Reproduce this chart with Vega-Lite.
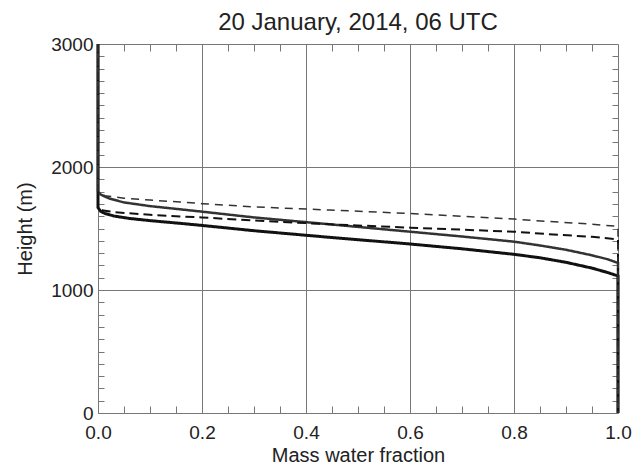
{
  "$schema": "https://vega.github.io/schema/vega-lite/v6.json",
  "autosize": "none",
  "width": 520,
  "height": 369,
  "padding": {"left": 98, "top": 44, "right": 25, "bottom": 52},
  "background": "white",
  "config": {
    "font": "Liberation Sans",
    "view": {"stroke": null},
    "axis": {"labelFlush": false, "labelOverlap": false, "labelColor": "#222", "titleColor": "#222", "titleFontWeight": "normal", "labelFont": "Liberation Sans", "titleFont": "Liberation Sans"}
  },
  "title": {"text": "20 January, 2014, 06 UTC", "fontSize": 24, "fontWeight": "normal", "font": "Liberation Sans", "color": "#222", "anchor": "middle", "frame": "group", "offset": 0},
  "data": {"values": [
    {"s": "thick_solid", "i": 0, "x": 0, "h": 3000},
    {"s": "thick_solid", "i": 1, "x": 0, "h": 1670},
    {"s": "thick_solid", "i": 2, "x": 0.005, "h": 1640},
    {"s": "thick_solid", "i": 3, "x": 0.013, "h": 1623},
    {"s": "thick_solid", "i": 4, "x": 0.03, "h": 1602},
    {"s": "thick_solid", "i": 5, "x": 0.06, "h": 1582},
    {"s": "thick_solid", "i": 6, "x": 0.1, "h": 1564},
    {"s": "thick_solid", "i": 7, "x": 0.158, "h": 1542},
    {"s": "thick_solid", "i": 8, "x": 0.2, "h": 1525},
    {"s": "thick_solid", "i": 9, "x": 0.3, "h": 1482},
    {"s": "thick_solid", "i": 10, "x": 0.446, "h": 1428},
    {"s": "thick_solid", "i": 11, "x": 0.6, "h": 1374},
    {"s": "thick_solid", "i": 12, "x": 0.7, "h": 1335},
    {"s": "thick_solid", "i": 13, "x": 0.8, "h": 1290},
    {"s": "thick_solid", "i": 14, "x": 0.85, "h": 1262},
    {"s": "thick_solid", "i": 15, "x": 0.9, "h": 1225},
    {"s": "thick_solid", "i": 16, "x": 0.95, "h": 1178},
    {"s": "thick_solid", "i": 17, "x": 0.98, "h": 1142},
    {"s": "thick_solid", "i": 18, "x": 1.0, "h": 1114},
    {"s": "thick_solid", "i": 19, "x": 1.0, "h": 0},
    {"s": "thin_solid", "i": 0, "x": 0, "h": 3000},
    {"s": "thin_solid", "i": 1, "x": 0, "h": 1800},
    {"s": "thin_solid", "i": 2, "x": 0.005, "h": 1777},
    {"s": "thin_solid", "i": 3, "x": 0.013, "h": 1760},
    {"s": "thin_solid", "i": 4, "x": 0.023, "h": 1742},
    {"s": "thin_solid", "i": 5, "x": 0.05, "h": 1712},
    {"s": "thin_solid", "i": 6, "x": 0.1, "h": 1682},
    {"s": "thin_solid", "i": 7, "x": 0.158, "h": 1656},
    {"s": "thin_solid", "i": 8, "x": 0.2, "h": 1637},
    {"s": "thin_solid", "i": 9, "x": 0.3, "h": 1590},
    {"s": "thin_solid", "i": 10, "x": 0.446, "h": 1534},
    {"s": "thin_solid", "i": 11, "x": 0.6, "h": 1474},
    {"s": "thin_solid", "i": 12, "x": 0.7, "h": 1435},
    {"s": "thin_solid", "i": 13, "x": 0.8, "h": 1393},
    {"s": "thin_solid", "i": 14, "x": 0.85, "h": 1362},
    {"s": "thin_solid", "i": 15, "x": 0.9, "h": 1327},
    {"s": "thin_solid", "i": 16, "x": 0.95, "h": 1282},
    {"s": "thin_solid", "i": 17, "x": 0.98, "h": 1250},
    {"s": "thin_solid", "i": 18, "x": 1.0, "h": 1220},
    {"s": "thin_solid", "i": 19, "x": 1.0, "h": 0},
    {"s": "thick_dashed", "i": 0, "x": 0, "h": 3000},
    {"s": "thick_dashed", "i": 1, "x": 0, "h": 1670},
    {"s": "thick_dashed", "i": 2, "x": 0.01, "h": 1646},
    {"s": "thick_dashed", "i": 3, "x": 0.033, "h": 1632},
    {"s": "thick_dashed", "i": 4, "x": 0.1, "h": 1611},
    {"s": "thick_dashed", "i": 5, "x": 0.158, "h": 1598},
    {"s": "thick_dashed", "i": 6, "x": 0.2, "h": 1590},
    {"s": "thick_dashed", "i": 7, "x": 0.3, "h": 1565},
    {"s": "thick_dashed", "i": 8, "x": 0.446, "h": 1534},
    {"s": "thick_dashed", "i": 9, "x": 0.6, "h": 1507},
    {"s": "thick_dashed", "i": 10, "x": 0.8, "h": 1474},
    {"s": "thick_dashed", "i": 11, "x": 0.863, "h": 1455},
    {"s": "thick_dashed", "i": 12, "x": 0.95, "h": 1432},
    {"s": "thick_dashed", "i": 13, "x": 1.0, "h": 1412},
    {"s": "thick_dashed", "i": 14, "x": 1.0, "h": 0},
    {"s": "thin_dashed", "i": 0, "x": 0, "h": 3000},
    {"s": "thin_dashed", "i": 1, "x": 0, "h": 1800},
    {"s": "thin_dashed", "i": 2, "x": 0.013, "h": 1767},
    {"s": "thin_dashed", "i": 3, "x": 0.05, "h": 1746},
    {"s": "thin_dashed", "i": 4, "x": 0.1, "h": 1731},
    {"s": "thin_dashed", "i": 5, "x": 0.158, "h": 1716},
    {"s": "thin_dashed", "i": 6, "x": 0.2, "h": 1702},
    {"s": "thin_dashed", "i": 7, "x": 0.3, "h": 1676},
    {"s": "thin_dashed", "i": 8, "x": 0.446, "h": 1650},
    {"s": "thin_dashed", "i": 9, "x": 0.6, "h": 1622},
    {"s": "thin_dashed", "i": 10, "x": 0.8, "h": 1577},
    {"s": "thin_dashed", "i": 11, "x": 0.863, "h": 1558},
    {"s": "thin_dashed", "i": 12, "x": 0.95, "h": 1535},
    {"s": "thin_dashed", "i": 13, "x": 1.0, "h": 1517},
    {"s": "thin_dashed", "i": 14, "x": 1.0, "h": 0}
  ]},
  "resolve": {"axis": {"x": "independent", "y": "independent"}},
  "layer": [
    {
      "mark": {"type": "line", "clip": false},
      "encoding": {
        "x": {"field": "x", "type": "quantitative", "scale": {"domain": [0, 1], "nice": false, "zero": false},
          "axis": {"orient": "bottom", "values": [0, 0.2, 0.4, 0.6, 0.8, 1.0], "format": ".1f", "grid": true, "gridColor": "#777", "gridWidth": 1, "gridOpacity": 1, "tickSize": 0, "labelFontSize": 19, "labelPadding": 10, "domain": true, "domainColor": "#777", "domainWidth": 1, "title": "Mass water fraction", "titleFontSize": 20, "titlePadding": 3}},
        "y": {"field": "h", "type": "quantitative", "scale": {"domain": [0, 3000], "nice": false},
          "axis": {"orient": "left", "values": [0, 1000, 2000, 3000], "format": "d", "grid": true, "gridColor": "#777", "gridWidth": 1, "gridOpacity": 1, "tickSize": 0, "labelFontSize": 19, "labelPadding": 5, "domain": true, "domainColor": "#777", "domainWidth": 1, "title": "Height (m)", "titleFontSize": 20, "titlePadding": 15}},
        "detail": {"field": "s"},
        "order": {"field": "i", "type": "quantitative"},
        "color": {"field": "s", "type": "nominal", "legend": null, "scale": {"domain": ["thick_solid", "thin_solid", "thick_dashed", "thin_dashed"], "range": ["#111", "#333", "#111", "#333"]}},
        "strokeWidth": {"field": "s", "type": "nominal", "legend": null, "scale": {"domain": ["thick_solid", "thin_solid", "thick_dashed", "thin_dashed"], "range": [3, 1.5, 3, 1.5]}},
        "strokeDash": {"field": "s", "type": "nominal", "legend": null, "scale": {"domain": ["thick_solid", "thin_solid", "thick_dashed", "thin_dashed"], "range": [[1, 0], [1, 0], [9, 5], [8, 6]]}}
      }
    },
    {
      "mark": {"type": "line", "opacity": 0},
      "encoding": {
        "x": {"field": "x", "type": "quantitative",
          "axis": {"orient": "bottom", "offset": -7, "values": [0.05, 0.1, 0.15, 0.25, 0.3, 0.35, 0.45, 0.5, 0.55, 0.65, 0.7, 0.75, 0.85, 0.9, 0.95], "labels": false, "grid": false, "domain": false, "ticks": true, "tickSize": 7, "tickColor": "#777", "tickWidth": 1, "title": null}},
        "y": {"field": "h", "type": "quantitative",
          "axis": {"orient": "left", "offset": -6, "values": [100, 200, 300, 400, 500, 600, 700, 800, 900, 1100, 1200, 1300, 1400, 1500, 1600, 1700, 1800, 1900, 2100, 2200, 2300, 2400, 2500, 2600, 2700, 2800, 2900], "labels": false, "grid": false, "domain": false, "ticks": true, "tickSize": 6, "tickColor": "#777", "tickWidth": 1, "title": null}},
        "detail": {"field": "s"},
        "order": {"field": "i", "type": "quantitative"}
      }
    },
    {
      "mark": {"type": "line", "opacity": 0},
      "encoding": {
        "x": {"field": "x", "type": "quantitative",
          "axis": {"orient": "top", "offset": -7, "values": [0.05, 0.1, 0.15, 0.25, 0.3, 0.35, 0.45, 0.5, 0.55, 0.65, 0.7, 0.75, 0.85, 0.9, 0.95], "labels": false, "grid": false, "domain": false, "ticks": true, "tickSize": 7, "tickColor": "#777", "tickWidth": 1, "title": null}},
        "y": {"field": "h", "type": "quantitative",
          "axis": {"orient": "right", "offset": -6, "values": [100, 200, 300, 400, 500, 600, 700, 800, 900, 1100, 1200, 1300, 1400, 1500, 1600, 1700, 1800, 1900, 2100, 2200, 2300, 2400, 2500, 2600, 2700, 2800, 2900], "labels": false, "grid": false, "domain": false, "ticks": true, "tickSize": 6, "tickColor": "#777", "tickWidth": 1, "title": null}},
        "detail": {"field": "s"},
        "order": {"field": "i", "type": "quantitative"}
      }
    }
  ]
}
